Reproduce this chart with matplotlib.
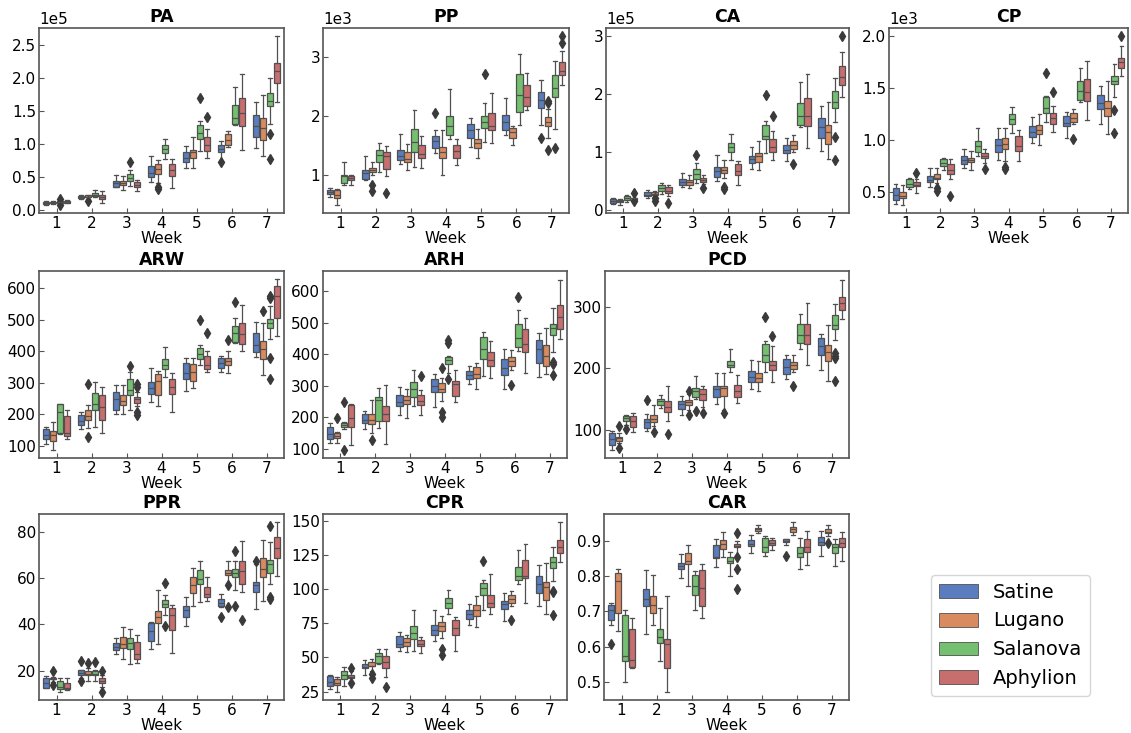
import matplotlib
matplotlib.use("Agg")
import matplotlib.pyplot as plt
from matplotlib.patches import Patch
import seaborn as sns

cultivars = ["Satine", "Lugano", "Salanova", "Aphylion"]
weeks = ["1", "2", "3", "4", "5", "6", "7"]

# box stats per week, per cultivar: (whislo, q1, med, q3, whishi)
PA = [
    [(.08, .09, .10, .12, .13), (.09, .10, .11, .12, .14), (.09, .11, .12, .14, .17), (.10, .11, .12, .13, .15)],
    [(.16, .18, .19, .21, .23), (.17, .19, .20, .22, .23), (.19, .21, .23, .25, .30), (.10, .16, .19, .23, .28)],
    [(.34, .35, .40, .44, .53), (.30, .37, .41, .44, .51), (.36, .44, .49, .54, .61), (.29, .35, .38, .42, .46)],
    [(.43, .50, .56, .67, .82), (.40, .54, .62, .70, .76), (.77, .86, .92, .99, 1.08), (.33, .51, .60, .69, .77)],
    [(.64, .73, .79, .87, .97), (.63, .78, .87, .91, 1.10), (.90, 1.08, 1.17, 1.28, 1.35), (.79, .90, .98, 1.11, 1.23)],
    [(.74, .88, .93, .98, 1.05), (.96, .99, 1.06, 1.15, 1.20), (1.28, 1.30, 1.40, 1.59, 1.87), (.91, 1.27, 1.47, 1.70, 2.06)],
    [(.94, 1.11, 1.27, 1.44, 1.64), (.82, 1.06, 1.24, 1.40, 1.74), (1.30, 1.57, 1.65, 1.77, 2.00), (1.63, 1.93, 2.10, 2.22, 2.63)],
]
PA_fliers = [(1, 2, .17), (1, 2, .08), (2, 1, .13), (3, 2, .72), (4, 1, .31), (4, 1, .35), (5, 2, 1.70),
             (5, 3, 1.41), (6, 0, .72), (7, 2, 1.15), (7, 2, .77)]

PP = [
    [(.62, .67, .70, .74, .78), (.49, .60, .66, .73, .75), (.82, .85, .97, 1.0, 1.21), (.83, .91, .95, .98, 1.0)],
    [(.90, .93, 1.02, 1.08, 1.32), (1.0, 1.04, 1.08, 1.12, 1.22), (1.04, 1.21, 1.33, 1.42, 1.53), (.98, 1.10, 1.31, 1.38, 1.48)],
    [(1.18, 1.24, 1.32, 1.42, 1.69), (1.07, 1.21, 1.26, 1.38, 1.52), (1.13, 1.39, 1.56, 1.78, 2.10), (1.12, 1.28, 1.35, 1.50, 1.65)],
    [(1.36, 1.45, 1.57, 1.66, 1.76), (.99, 1.28, 1.38, 1.47, 1.75), (1.60, 1.67, 1.83, 2.00, 2.46), (1.17, 1.28, 1.40, 1.51, 1.60)],
    [(1.47, 1.63, 1.75, 1.86, 1.97), (1.29, 1.46, 1.53, 1.60, 1.77), (1.55, 1.80, 1.90, 2.00, 2.21), (1.53, 1.75, 1.83, 2.05, 2.38)],
    [(1.67, 1.76, 1.90, 2.01, 2.30), (1.50, 1.62, 1.72, 1.80, 1.83), (1.84, 2.07, 2.35, 2.71, 3.05), (2.10, 2.17, 2.32, 2.52, 2.72)],
    [(1.85, 2.14, 2.27, 2.40, 2.61), (1.62, 1.83, 1.90, 1.98, 2.12), (1.78, 2.32, 2.47, 2.69, 2.93), (2.53, 2.70, 2.77, 2.92, 3.10)],
]
PP_fliers = [(2, 1, .72), (2, 1, .83), (2, 3, .68), (4, 0, 2.05), (5, 2, 2.71), (7, 0, 1.63), (7, 1, 2.22),
             (7, 1, 2.26), (7, 1, 1.41), (7, 2, 1.46), (7, 3, 3.23), (7, 3, 3.35)]

CA = [
    [(.11, .13, .16, .20, .22), (.10, .14, .16, .18, .19), (.15, .18, .21, .24, .27), (.16, .18, .21, .22, .28)],
    [(.21, .24, .27, .32, .35), (.23, .26, .28, .31, .33), (.29, .34, .39, .43, .47), (.24, .30, .34, .40, .44)],
    [(.40, .44, .49, .54, .64), (.38, .44, .49, .53, .60), (.47, .54, .63, .71, .81), (.45, .48, .52, .56, .60)],
    [(.50, .58, .68, .74, .95), (.55, .64, .70, .74, .86), (.87, 1.0, 1.09, 1.16, 1.31), (.43, .60, .67, .80, .85)],
    [(.71, .81, .88, .94, 1.09), (.69, .84, .93, .98, 1.19), (.99, 1.22, 1.28, 1.47, 1.53), (.87, 1.0, 1.09, 1.22, 1.36)],
    [(.85, .98, 1.04, 1.13, 1.24), (1.0, 1.05, 1.12, 1.20, 1.30), (1.43, 1.46, 1.63, 1.84, 2.20), (1.07, 1.45, 1.62, 1.93, 2.35)],
    [(1.02, 1.25, 1.43, 1.59, 1.80), (.88, 1.14, 1.34, 1.46, 1.87), (1.52, 1.76, 1.87, 2.05, 2.27), (1.95, 2.16, 2.30, 2.49, 2.73)],
]
CA_fliers = [(1, 3, .30), (1, 3, .17), (2, 1, .17), (2, 1, .21), (2, 3, .13), (3, 2, .95), (3, 3, .38),
             (4, 1, .37), (4, 1, .41), (5, 2, 1.99), (5, 3, 1.63), (6, 1, .79), (7, 2, 1.27), (7, 2, .87),
             (7, 3, 2.99)]

CP = [
    [(.39, .42, .47, .54, .58), (.38, .44, .46, .50, .57), (.53, .55, .58, .63, .64), (.49, .56, .57, .60, .63)],
    [(.55, .60, .62, .66, .73), (.59, .63, .64, .67, .73), (.71, .75, .78, .82, .83), (.63, .67, .71, .77, .82)],
    [(.73, .77, .81, .85, .92), (.71, .79, .81, .83, .90), (.85, .89, .94, .99, 1.12), (.78, .83, .85, .88, .92)],
    [(.81, .89, .95, 1.01, 1.12), (.80, .92, .96, 1.02, 1.12), (1.07, 1.16, 1.20, 1.25, 1.32), (.80, .90, .94, 1.04, 1.10)],
    [(.97, 1.03, 1.08, 1.14, 1.22), (.95, 1.06, 1.10, 1.15, 1.25), (1.18, 1.26, 1.31, 1.42, 1.43), (1.08, 1.16, 1.21, 1.26, 1.33)],
    [(1.02, 1.14, 1.17, 1.23, 1.27), (1.16, 1.18, 1.21, 1.26, 1.30), (1.37, 1.39, 1.47, 1.57, 1.70), (1.19, 1.38, 1.46, 1.59, 1.76)],
    [(1.16, 1.30, 1.36, 1.44, 1.52), (1.06, 1.23, 1.31, 1.38, 1.57), (1.42, 1.54, 1.57, 1.62, 1.73), (1.62, 1.70, 1.75, 1.79, 1.91)],
]
CP_fliers = [(1, 3, .68), (2, 1, .51), (2, 1, .54), (2, 3, .46), (3, 3, .72), (4, 1, .72), (4, 1, .74),
             (5, 2, 1.65), (5, 3, 1.46), (6, 1, 1.01), (7, 2, 1.29), (7, 2, 1.07), (7, 3, 2.0)]

ARW = [
    [(105, 121, 135, 153, 158), (88, 114, 133, 146, 175), (138, 140, 207, 231, 231), (120, 130, 140, 196, 215)],
    [(152, 167, 178, 199, 206), (155, 183, 193, 213, 230), (158, 215, 233, 266, 304), (140, 183, 223, 260, 288)],
    [(200, 215, 248, 271, 293), (200, 228, 243, 260, 293), (215, 260, 278, 311, 333), (225, 236, 248, 254, 270)],
    [(240, 263, 282, 302, 348), (225, 260, 305, 329, 338), (318, 345, 357, 377, 413), (208, 263, 288, 313, 330)],
    [(275, 313, 332, 364, 378), (282, 305, 335, 359, 378), (355, 377, 390, 412, 420), (335, 343, 355, 385, 400)],
    [(335, 348, 363, 380, 385), (330, 356, 370, 380, 402), (425, 430, 457, 481, 505), (400, 422, 456, 491, 548)],
    [(382, 398, 420, 457, 492), (325, 377, 407, 433, 490), (440, 475, 490, 504, 545), (447, 507, 575, 608, 628)],
]
ARW_fliers = [(2, 1, 295), (2, 1, 127), (3, 2, 354), (3, 3, 198), (3, 3, 207), (3, 3, 285), (3, 3, 295),
              (5, 2, 500), (5, 3, 457), (6, 1, 437), (6, 2, 557), (7, 1, 527), (7, 2, 575), (7, 2, 570),
              (7, 2, 378), (7, 2, 311)]

ARH = [
    [(117, 130, 147, 167, 180), (117, 132, 140, 151, 153), (163, 168, 176, 182, 185), (110, 167, 197, 238, 240)],
    [(163, 181, 190, 210, 220), (150, 178, 190, 210, 253), (165, 188, 255, 263, 292), (113, 188, 210, 236, 303)],
    [(208, 234, 247, 270, 295), (198, 242, 254, 266, 290), (235, 263, 290, 311, 348), (208, 238, 252, 271, 285)],
    [(232, 279, 300, 321, 337), (250, 279, 290, 308, 325), (340, 369, 380, 390, 395), (248, 268, 305, 316, 350)],
    [(305, 321, 335, 345, 362), (290, 323, 338, 358, 372), (330, 385, 415, 454, 470), (325, 362, 380, 406, 443)],
    [(290, 334, 355, 385, 415), (350, 362, 377, 390, 412), (410, 422, 450, 497, 540), (340, 406, 432, 481, 514)],
    [(327, 372, 415, 444, 467), (338, 362, 395, 430, 483), (408, 462, 483, 497, 548), (447, 481, 517, 555, 637)],
]
ARH_fliers = [(1, 1, 197), (1, 2, 248), (1, 2, 97), (2, 1, 127), (3, 3, 330), (4, 1, 355), (4, 1, 215),
              (4, 1, 200), (4, 2, 445), (4, 2, 435), (4, 2, 320), (6, 1, 302), (6, 2, 582), (7, 2, 375),
              (7, 2, 368), (7, 2, 335)]

PCD = [
    [(68, 75, 85, 95, 98), (78, 82, 86, 89, 95), (108, 115, 120, 122, 124), (96, 105, 115, 122, 127)],
    [(98, 103, 112, 118, 126), (106, 113, 118, 124, 140), (135, 141, 147, 151, 157), (115, 129, 137, 147, 171)],
    [(125, 134, 142, 147, 155), (133, 140, 145, 148, 158), (150, 154, 163, 169, 188), (138, 149, 158, 166, 172)],
    [(142, 154, 167, 172, 192), (133, 155, 168, 172, 192), (195, 202, 206, 213, 232), (143, 154, 163, 173, 190)],
    [(166, 178, 186, 196, 214), (164, 178, 185, 192, 213), (195, 211, 222, 240, 245), (178, 198, 206, 213, 237)],
    [(183, 191, 202, 216, 222), (195, 199, 205, 210, 222), (232, 242, 254, 272, 289), (206, 240, 254, 272, 306)],
    [(198, 222, 236, 249, 257), (180, 213, 227, 238, 271), (247, 265, 271, 287, 305), (280, 296, 306, 316, 345)],
]
PCD_fliers = [(1, 1, 106), (1, 1, 71), (1, 2, 101), (2, 0, 148), (2, 1, 97), (2, 3, 93), (3, 1, 164),
              (3, 1, 125), (3, 2, 130), (3, 3, 128), (4, 1, 128), (5, 2, 284), (5, 3, 253), (6, 1, 172),
              (7, 2, 225), (7, 2, 220), (7, 2, 217), (7, 2, 180)]

PPR = [
    [(12.5, 12.7, 14.5, 17.0, 17.5), (15, 16.3, 16.5, 17, 17.2), (11, 11.9, 13, 15.5, 17), (11.5, 11.9, 12.7, 14.8, 17)],
    [(17, 18.1, 19, 20.3, 20.5), (15.5, 18.1, 18.7, 20, 21), (15.5, 18, 18.6, 19.9, 20.5), (13, 14.8, 15.5, 16.7, 18)],
    [(27, 28.9, 30.2, 31.8, 34), (25, 29.6, 31.5, 34.4, 39), (23, 29.2, 32, 34.2, 38), (23.5, 24.9, 27, 32.4, 35.5)],
    [(29.5, 33, 37.3, 40.4, 41), (31.5, 40.4, 43.3, 45.9, 55), (44, 47.6, 49, 50.5, 52.5), (27.5, 37.6, 44, 47.2, 48.5)],
    [(39.5, 43.3, 46, 47.9, 52), (48, 53.4, 56.8, 60.3, 64.5), (49.5, 57.4, 59.5, 63.4, 67.5), (50, 51.7, 53, 56, 60.5)],
    [(47.5, 47.9, 49.3, 50.8, 53), (58, 61.3, 62.2, 63.4, 67.5), (55, 60.3, 62, 63.9, 67.5), (54, 57.4, 63, 67.3, 76)],
    [(46.5, 54.1, 57, 58.4, 66), (50, 60.6, 64, 68.5, 76.5), (57.5, 62, 66, 67.8, 75.5), (61, 68.5, 73, 77.8, 84)],
]
PPR_fliers = [(1, 1, 20), (1, 1, 14), (2, 0, 24), (2, 0, 15.5), (2, 1, 23.5), (2, 2, 23.8), (2, 3, 20),
              (2, 3, 11), (4, 2, 58), (4, 2, 39.3), (6, 0, 43), (6, 1, 56.8), (6, 1, 47.5), (6, 2, 71.5),
              (6, 2, 48), (6, 3, 42), (7, 0, 67.5), (7, 2, 82.5), (7, 2, 52), (7, 2, 51)]

CPR = [
    [(27, 29.1, 32, 36.4, 37), (25, 29.6, 31, 34, 36), (29, 34.5, 37, 40, 43), (33, 35.2, 36, 37.2, 40)],
    [(37, 42, 43, 45, 48), (40, 43.7, 44, 46.9, 49), (45, 46.2, 51, 53.5, 56.5), (36, 42.5, 47, 51, 56.5)],
    [(55, 57.8, 60, 65.6, 68.5), (54, 58.3, 61, 64.4, 66.5), (55, 63.2, 68, 73, 85), (53, 58.3, 60, 62.5, 65)],
    [(62, 66.8, 70, 74, 85), (64, 69.3, 73, 76, 80.5), (82, 86.3, 90, 93.6, 99.5), (54.5, 66.4, 71.5, 77.3, 80)],
    [(74, 78.3, 82, 84.6, 89), (72, 80.2, 84.5, 88.7, 95), (85, 96, 101, 104.6, 107), (82, 87, 90, 96, 111)],
    [(77, 85.8, 89, 91.2, 97), (88, 90, 93, 96, 99), (104, 107, 110, 116.7, 129), (90, 108, 110, 121.6, 133)],
    [(88, 97.3, 104, 110, 118), (82, 92.4, 102, 105, 119), (106, 115.5, 120, 124, 131), (120, 126.5, 131, 136, 149)],
]
CPR_fliers = [(1, 3, 42.5), (1, 3, 31.5), (2, 1, 38), (2, 1, 35), (2, 3, 28.5), (4, 1, 56), (4, 1, 52),
              (5, 2, 120.5), (6, 1, 77.5), (7, 2, 99), (7, 2, 98), (7, 2, 81)]

CAR = [
    [(.66, .676, .705, .719, .725), (.645, .695, .787, .808, .822), (.50, .56, .573, .69, .703), (.54, .542, .562, .65, .68)],
    [(.635, .714, .734, .764, .817), (.66, .695, .718, .744, .803), (.56, .61, .627, .65, .71), (.472, .54, .607, .622, .745)],
    [(.795, .82, .828, .837, .862), (.772, .835, .843, .865, .89), (.703, .747, .772, .804, .815), (.68, .714, .766, .818, .834)],
    [(.825, .851, .855, .889, .907), (.855, .877, .892, .903, .925), (.80, .839, .843, .856, .87), (.86, .882, .886, .893, .90)],
    [(.866, .886, .893, .903, .918), (.922, .929, .933, .938, .945), (.857, .87, .883, .908, .914), (.875, .889, .895, .903, .91)],
    [(.89, .898, .901, .905, .907), (.918, .926, .933, .94, .953), (.822, .856, .866, .884, .91), (.833, .87, .882, .905, .928)],
    [(.858, .889, .898, .912, .928), (.915, .922, .926, .933, .945), (.828, .865, .882, .893, .905), (.842, .882, .895, .908, .925)],
]
CAR_fliers = [(1, 0, .608), (4, 3, .923), (4, 3, .855), (4, 3, .82), (4, 3, .763), (6, 0, .858), (7, 1, .895)]

# name, data, fliers, scale, yticks, frame box in pixels (left, top, right, bottom)
panels = [
    ("PA", PA, PA_fliers, 1e5, [0, .5, 1, 1.5, 2, 2.5], (39, 28, 284, 213)),
    ("PP", PP, PP_fliers, 1e3, [1, 2, 3], (323, 28, 569, 213)),
    ("CA", CA, CA_fliers, 1e5, [0, 1, 2, 3], (606, 28, 849, 213)),
    ("CP", CP, CP_fliers, 1e3, [.5, 1, 1.5, 2], (889, 28, 1128, 213)),
    ("ARW", ARW, ARW_fliers, 1, [100, 200, 300, 400, 500, 600], (39, 271, 284, 458)),
    ("ARH", ARH, ARH_fliers, 1, [100, 200, 300, 400, 500, 600], (323, 271, 567, 458)),
    ("PCD", PCD, PCD_fliers, 1, [100, 200, 300], (605, 271, 849, 458)),
    ("PPR", PPR, PPR_fliers, 1, [20, 40, 60, 80], (39, 514, 284, 700)),
    ("CPR", CPR, CPR_fliers, 1, [25, 50, 75, 100, 125, 150], (323, 514, 567, 700)),
    ("CAR", CAR, CAR_fliers, 1, [.5, .6, .7, .8, .9], (604, 514, 849, 700)),
]

colors = [sns.desaturate(c, 0.75) for c in sns.color_palette("muted", 4)]
offsets = [-0.3, -0.1, 0.1, 0.3]
edge = "#505050"
W, H = 1131, 733

fig = plt.figure(figsize=(W / 100, H / 100), dpi=100)

for name, data, fl, scale, yticks, (l, t, r, b) in panels:
    ax = fig.add_axes([l / W, 1 - b / H, (r - l) / W, (b - t) / H])
    stats, pos, cols = [], [], []
    for w, week in enumerate(data):
        for c, (lo, q1, med, q3, hi) in enumerate(week):
            fls = [v * scale for (ww, cc, v) in fl if ww == w + 1 and cc == c]
            stats.append(dict(whislo=lo * scale, q1=q1 * scale, med=med * scale,
                              q3=q3 * scale, whishi=hi * scale, fliers=fls))
            pos.append(w + offsets[c])
            cols.append(colors[c])
    bp = ax.bxp(stats, positions=pos, widths=0.19, patch_artist=True,
                boxprops=dict(edgecolor=edge, linewidth=0.9),
                medianprops=dict(color=edge, linewidth=0.9),
                whiskerprops=dict(color=edge, linewidth=0.9),
                capprops=dict(color=edge, linewidth=0.9),
                flierprops=dict(marker="d", markersize=5, markerfacecolor="#3a3a3a",
                                markeredgecolor="#3a3a3a"))
    for patch, col in zip(bp["boxes"], cols):
        patch.set_facecolor(col)
    ax.set_xticks(range(7))
    ax.set_xticklabels(weeks)
    ax.set_xlim(-0.5, 6.5)
    ax.set_yticks([v * scale for v in yticks])
    if scale != 1:
        ax.ticklabel_format(axis="y", style="sci", scilimits=(0, 0))
        ax.yaxis.get_offset_text().set_fontsize(11)
    ax.tick_params(direction="in", labelsize=11, length=3.5, color="#555555", pad=2)
    for s in ax.spines.values():
        s.set_color("#555555")
        s.set_linewidth(1.2)
    ax.set_title(name, fontsize=12.5, fontweight="bold", pad=4)
    ax.set_xlabel("Week", fontsize=11, labelpad=0)

handles = [Patch(facecolor=c, edgecolor=edge, linewidth=0.6) for c in colors]
fig.legend(handles, cultivars, loc="upper left", bbox_to_anchor=(931 / W, 1 - 575 / H),
           fontsize=14, frameon=True, borderaxespad=0)

fig.savefig("out.png", dpi=100)
